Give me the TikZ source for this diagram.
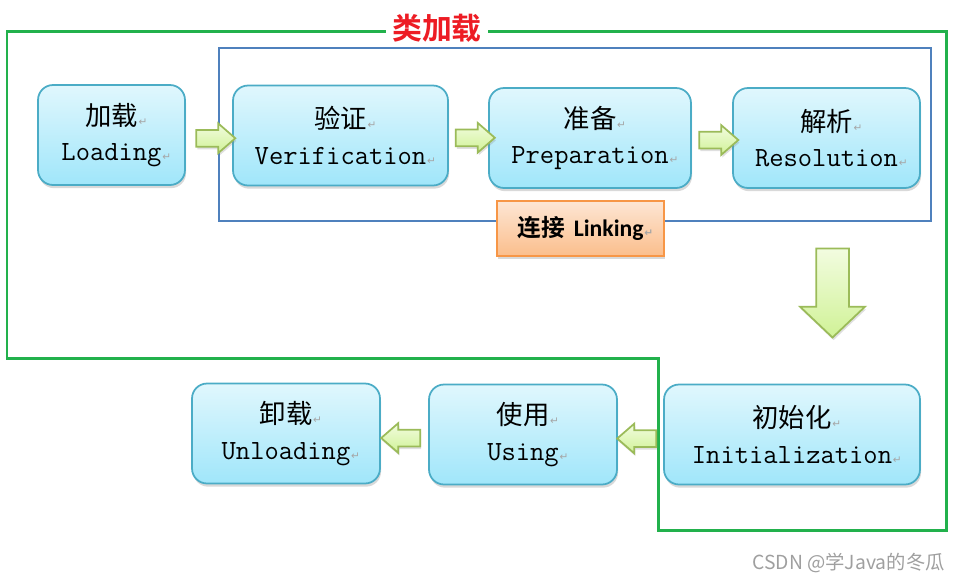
\documentclass[tikz,border=0pt]{standalone}
\usepackage{fontspec}
\usepackage{xcolor}
\usepackage{tikz}
\usetikzlibrary{shapes.arrows,shadows,calc,positioning}

\newfontfamily\cjk[BoldFont={Noto Sans CJK SC Bold}]{Noto Sans CJK SC}
\newfontfamily\linkfont{Carlito}
\newfontfamily\retfont{DejaVu Sans}
\newcommand{\ret}{\rlap{\kern0.5pt\retfont\fontsize{6}{6}\selectfont\textcolor{gray!70}{↵}}}
\newcommand{\en}[1]{{\ttfamily\fontsize{15.8}{20}\selectfont #1}}

\definecolor{boxtop}{RGB}{224,247,253}
\definecolor{boxbot}{RGB}{160,230,250}
\definecolor{boxedge}{RGB}{75,172,198}
\definecolor{linktop}{RGB}{253,230,212}
\definecolor{linkbot}{RGB}{251,190,140}
\definecolor{linkedge}{RGB}{247,150,70}
\definecolor{arrtop}{RGB}{242,252,224}
\definecolor{arrbot}{RGB}{208,242,150}
\definecolor{arredge}{RGB}{155,187,89}
\definecolor{framegreen}{RGB}{34,177,76}
\definecolor{frameblue}{RGB}{79,129,189}
\definecolor{titlered}{RGB}{237,28,36}

\tikzset{
  stage/.style={draw=boxedge, line width=1pt, rounded corners=0.3cm,
    top color=boxtop, bottom color=boxbot, align=center, inner sep=0pt,
    minimum height=2cm,
    drop shadow={shadow xshift=0.6pt, shadow yshift=-1.8pt, opacity=0.3},
    font=\fontsize{15}{20}\selectfont},
  rarrow/.style={single arrow, draw=arredge, line width=1pt,
    top color=arrtop, bottom color=arrbot, inner xsep=0pt, inner ysep=0.15cm,
    minimum height=0.78cm, minimum width=0.56cm,
    single arrow head extend=0.13cm, single arrow tip angle=82,
    drop shadow={shadow xshift=0.6pt, shadow yshift=-1.5pt, opacity=0.25}},
  larrow/.style={rarrow, shape border rotate=180},
  darrow/.style={rarrow, shape border rotate=270, inner xsep=0.31cm, inner ysep=0pt,
    minimum height=1.78cm, minimum width=1.26cm,
    single arrow head extend=0.32cm, single arrow tip angle=93},
  frame/.style={draw=framegreen, line width=1.7pt},
}

\begin{document}
\begin{tikzpicture}[x=0.02cm, y=-0.02cm]
    \useasboundingbox (0,0) rectangle (960,583);

    % outer frame: class loading
    \draw[frame] (7,31) -- (946,31) -- (946,530) -- (658,530) -- (658,358) -- (7,358) -- cycle;
    \node[fill=white, text=titlered, inner xsep=0.12cm, inner ysep=0pt,
          font=\cjk\bfseries\fontsize{17}{17}\selectfont] (title) at (437,28) {类加载};

    % linking frame
    \draw[frameblue, line width=1.1pt] (219,48) rectangle (931,221);

    % stages, top row
    \node[stage, minimum width=2.94cm] (load)  at (111.5,135) {{\cjk 加载}\ret\\\en{Loading}\ret};
    \node[stage, minimum width=4.30cm] (verif) at (340.5,135.5) {{\cjk 验证}\ret\\\en{Verification}\ret};
    \node[stage, minimum width=4.04cm] (prep)  at (590,138) {{\cjk 准备}\ret\\\en{Preparation}\ret};
    \node[stage, minimum width=3.74cm] (res)   at (826.5,138) {{\cjk 解析}\ret\\\en{Resolution}\ret};

    % linking label
    \node[draw=linkedge, line width=1pt, top color=linktop, bottom color=linkbot,
          minimum width=3.34cm, minimum height=1.1cm, inner sep=0pt,
          drop shadow={shadow xshift=0.6pt, shadow yshift=-1.8pt, opacity=0.3},
          font=\bfseries\fontsize{13.5}{16}\selectfont] (link) at (580.5,228.5)
          {{\cjk 连接} {\linkfont Linking}\ret};

    % stages, bottom row
    \node[stage, minimum width=5.12cm] (init)   at (792,434.5) {{\cjk 初始化}\ret\\\en{Initialization}\ret};
    \node[stage, minimum width=3.76cm] (use)    at (523,434.5) {{\cjk 使用}\ret\\\en{Using}\ret};
    \node[stage, minimum width=3.76cm] (unload) at (286,433.5) {{\cjk 卸载}\ret\\\en{Unloading}\ret};

    % block arrows
    \node[rarrow] (a1) at ($(load.east)!0.5!(verif.west)+(2,3)$) {};
    \node[rarrow] (a2) at ($(verif.east)!0.5!(prep.west)+(2,1)$) {};
    \node[rarrow] (a3) at ($(prep.east)!0.5!(res.west)+(2,2)$) {};
    \node[darrow] (a4) at ($(res.south)!0.5!(res.south |- init.north)+(6,-1)$) {};
    \node[larrow] (a5) at ($(use.east)!0.5!(init.west)+(1,4)$) {};
    \node[larrow] (a6) at ($(unload.east)!0.5!(use.west)+(1,4)$) {};

    % watermark
    \node[anchor=east, text=gray!75, inner sep=0pt,
          font=\cjk\fontsize{11}{11}\selectfont] (mark) at (945,563) {CSDN @学Java的冬瓜};
\end{tikzpicture}
\end{document}
